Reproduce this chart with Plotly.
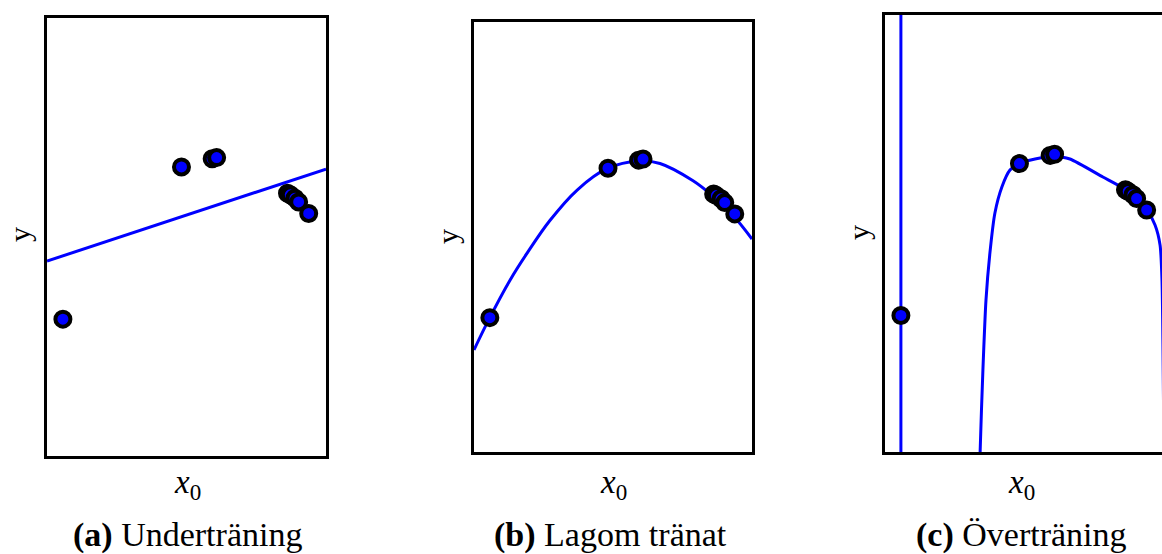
import plotly.graph_objects as go

W, H = 1162, 554

# Training samples (shared by all three panels), axes: x in [0,1], y in [-2,2]
pts_x = [0.057, 0.482, 0.592, 0.608, 0.862, 0.872, 0.889, 0.902, 0.938]
pts_y = [-0.75, 0.64, 0.715, 0.725, 0.40, 0.385, 0.355, 0.32, 0.215]

# (a) underfit: straight line
lin_x = [0.0, 1.0]
lin_y = [-0.22, 0.62]

# (b) good fit: smooth curve
good_x = [0.0, 0.054, 0.129, 0.191, 0.273, 0.371, 0.478, 0.597, 0.669, 0.788, 0.860, 0.932, 1.0]
good_y = [-1.05, -0.764, -0.404, -0.150, 0.153, 0.437, 0.635, 0.706, 0.684, 0.523, 0.379, 0.199, -0.019]

# (c) overfit: near-vertical spike and a wild branch
spike_x = [0.0568, 0.057, 0.0572]
spike_y = [30.0, -0.75, -30.0]
over_x = [0.338, 0.341, 0.351, 0.362, 0.376, 0.394, 0.419, 0.448, 0.484, 0.538, 0.602,
          0.663, 0.781, 0.853, 0.903, 0.939, 0.968, 0.986, 0.993, 1.003]
over_y = [-2.5, -2.0, -1.25, -0.61, -0.18, 0.188, 0.426, 0.581, 0.645, 0.682, 0.709,
          0.682, 0.517, 0.416, 0.307, 0.215, 0.078, -0.105, -0.43, -3.0]

captions = [("(a)", "Underträning"), ("(b)", "Lagom tränat"), ("(c)", "Överträning")]

BLUE = "#0000ff"
FONT = "Liberation Serif"

fig = go.Figure()

def add_points(xa, ya):
    fig.add_trace(go.Scatter(
        x=pts_x, y=pts_y, mode="markers", xaxis=xa, yaxis=ya,
        marker=dict(size=15, color=BLUE, line=dict(color="black", width=4)),
        showlegend=False, cliponaxis=False))

# panel a
fig.add_trace(go.Scatter(x=lin_x, y=lin_y, mode="lines", xaxis="x", yaxis="y",
                         line=dict(color=BLUE, width=3), showlegend=False))
add_points("x", "y")
# panel b
fig.add_trace(go.Scatter(x=good_x, y=good_y, mode="lines", xaxis="x2", yaxis="y2",
                         line=dict(color=BLUE, width=3, shape="spline", smoothing=1.0),
                         showlegend=False))
add_points("x2", "y2")
# panel c
fig.add_trace(go.Scatter(x=spike_x, y=spike_y, mode="lines", xaxis="x3", yaxis="y3",
                         line=dict(color=BLUE, width=3), showlegend=False))
fig.add_trace(go.Scatter(x=over_x, y=over_y, mode="lines", xaxis="x3", yaxis="y3",
                         line=dict(color=BLUE, width=3, shape="spline", smoothing=0.6),
                         showlegend=False))
add_points("x3", "y3")

def px_x(p):
    return p / W

def px_y(p):
    return 1 - p / H

boxes = [
    (47, 326, 18, 456, [0, 1], True),
    (474, 752, 22, 452, [0, 1], True),
    (885, 1162, 15, 452, [0, 0.993], False),
]

axis_common = dict(showgrid=False, zeroline=False, showticklabels=False, ticks="",
                   showline=True, linecolor="black", linewidth=3, fixedrange=True)

for i, (l, r, t, b, xr, mirror_y) in enumerate(boxes):
    sfx = "" if i == 0 else str(i + 1)
    fig.update_layout(**{
        "xaxis" + sfx: dict(domain=[px_x(l), px_x(r)], range=xr, mirror=True,
                            anchor="y" + sfx, **axis_common),
        "yaxis" + sfx: dict(domain=[px_y(b), px_y(t)], range=[-2, 2], mirror=mirror_y,
                            anchor="x" + sfx, **axis_common),
    })

annotations = []
ylabel_pos = [(19, 235), (448, 237), (858, 233)]
xlabel_pos = [(187, 484), (613, 484), (1022, 484)]
caption_pos = [(187, 535), (610, 535), (1021, 535)]

for i in range(3):
    yx, yy = ylabel_pos[i]
    annotations.append(dict(x=px_x(yx), y=px_y(yy), xref="paper", yref="paper",
                            text="y", textangle=-90, showarrow=False,
                            xanchor="center", yanchor="middle",
                            font=dict(family=FONT, size=30, color="black")))
    xx, xy = xlabel_pos[i]
    annotations.append(dict(x=px_x(xx), y=px_y(xy), xref="paper", yref="paper",
                            text="<i>x</i><sub>0</sub>", showarrow=False,
                            xanchor="center", yanchor="middle",
                            font=dict(family=FONT, size=33, color="black")))
    cx, cy = caption_pos[i]
    tag, name = captions[i]
    annotations.append(dict(x=px_x(cx), y=px_y(cy), xref="paper", yref="paper",
                            text="<b>" + tag + "</b> " + name, showarrow=False,
                            xanchor="center", yanchor="middle",
                            font=dict(family=FONT, size=34, color="black")))

fig.update_layout(width=W, height=H, margin=dict(l=0, r=0, t=0, b=0),
                  paper_bgcolor="white", plot_bgcolor="white",
                  annotations=annotations, showlegend=False)

fig.write_html("out.html", config={"displayModeBar": False},
               post_script="document.body.style.margin='0';document.body.style.overflow='hidden';")
